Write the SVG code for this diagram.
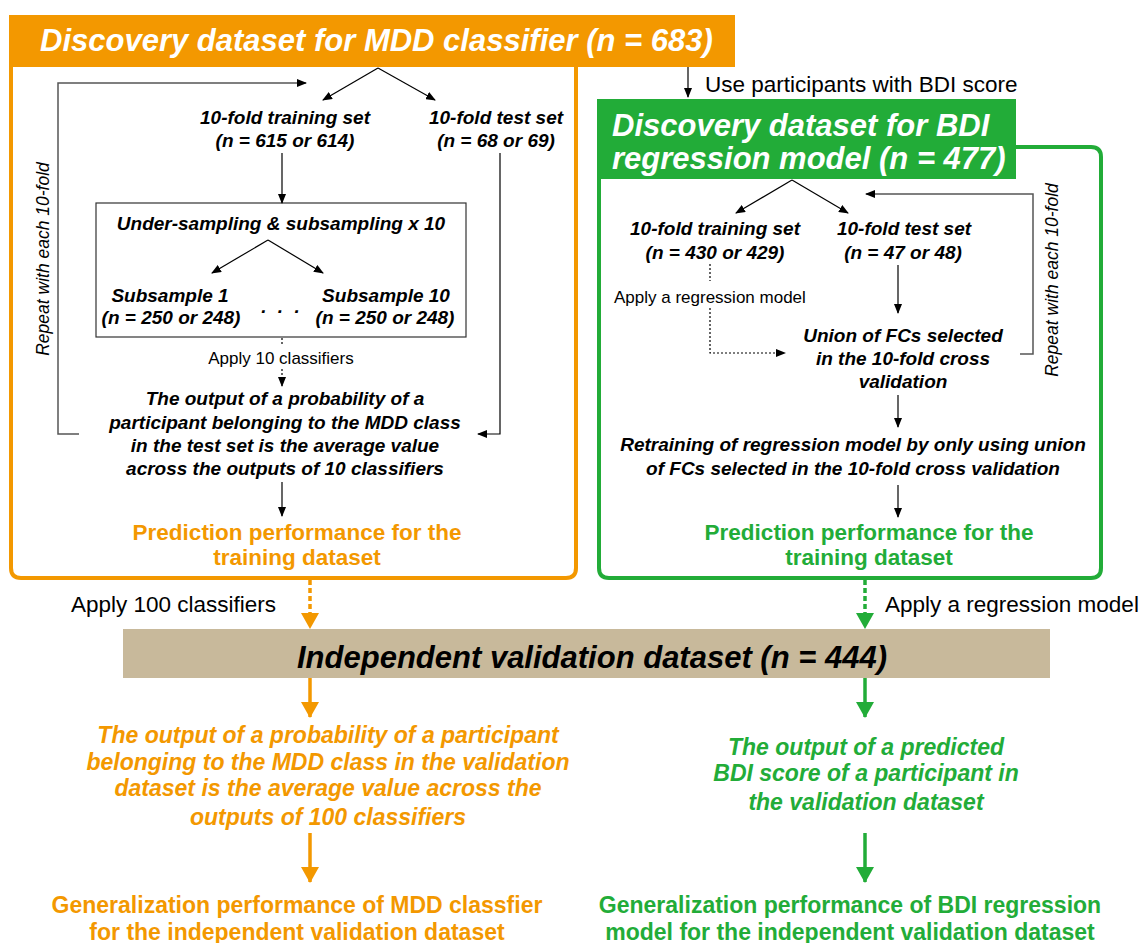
<svg xmlns="http://www.w3.org/2000/svg" width="1147" height="943" viewBox="0 0 1147 943">
<style>
  text { font-family: "Liberation Sans", Arial, sans-serif; }
  .bi { font-weight: bold; font-style: italic; font-size: 19px; fill: #000; text-anchor: middle; }
  .title { font-weight: bold; font-style: italic; font-size: 31px; fill: #fff; }
  .lbl { font-size: 17px; fill: #000; }
  .big { font-size: 22.5px; fill: #000; }
  .rot { font-size: 17.5px; font-style: italic; fill: #000; text-anchor: middle; }
  .perfO { font-weight: bold; font-size: 22.5px; fill: #F39800; text-anchor: middle; }
  .perfG { font-weight: bold; font-size: 22.5px; fill: #22AC38; text-anchor: middle; }
  .genO { font-weight: bold; font-size: 23px; fill: #F39800; text-anchor: middle; }
  .genG { font-weight: bold; font-size: 23px; fill: #22AC38; text-anchor: middle; }
  .outO { font-weight: bold; font-style: italic; font-size: 23px; fill: #F39800; text-anchor: middle; }
  .outG { font-weight: bold; font-style: italic; font-size: 23px; fill: #22AC38; text-anchor: middle; }
  .ln { fill: none; stroke: #000; stroke-width: 1.2; }
  .loop { fill: none; stroke: #555; stroke-width: 1.5; }
  .dot { fill: none; stroke: #000; stroke-width: 1.2; stroke-dasharray: 2 2; }
</style>
<defs>
  <marker id="ah" markerWidth="10" markerHeight="8" refX="9" refY="4" orient="auto" markerUnits="userSpaceOnUse">
    <path d="M0,0 L10,4 L0,8 Z" fill="#000"/>
  </marker>
  <marker id="ahO" markerWidth="16" markerHeight="18" refX="15" refY="9" orient="auto" markerUnits="userSpaceOnUse">
    <path d="M0,0 L16,9 L0,18 Z" fill="#F39800"/>
  </marker>
  <marker id="ahG" markerWidth="16" markerHeight="18" refX="15" refY="9" orient="auto" markerUnits="userSpaceOnUse">
    <path d="M0,0 L16,9 L0,18 Z" fill="#22AC38"/>
  </marker>
</defs>

<!-- Orange discovery box -->
<g id="mdd-discovery">
  <path d="M11,60 V568 Q11,578 21,578 H566 Q576,578 576,568 V60" fill="#fff" stroke="#F39800" stroke-width="4"/>
  <rect x="9" y="15" width="726" height="52" fill="#F39800"/>
  <text class="title" x="40" y="51">Discovery dataset for MDD classifier (n = 683)</text>
</g>

<!-- Green discovery box -->
<g id="bdi-discovery">
  <path d="M599,150 V568 Q599,578 609,578 H1091 Q1101,578 1101,568 V157 Q1101,147 1091,147 H1010" fill="#fff" stroke="#22AC38" stroke-width="4"/>
  <rect x="597" y="99" width="419" height="80" fill="#22AC38"/>
  <text class="title" x="612" y="136">Discovery dataset for BDI</text>
  <text class="title" x="612" y="169">regression model (n = 477)</text>
</g>

<g id="use-bdi-label"><text class="big" x="705" y="92">Use participants with BDI score</text></g>

<!-- Left internal nodes -->
<g id="l-train"><text class="bi" x="285" y="124">10-fold training set</text><text class="bi" x="285" y="147">(n = 615 or 614)</text></g>
<g id="l-test"><text class="bi" x="496" y="124">10-fold test set</text><text class="bi" x="496" y="147">(n = 68 or 69)</text></g>
<g id="l-subsample">
  <rect x="96" y="203" width="370" height="134" fill="#fff" stroke="#333" stroke-width="1.2"/>
  <text class="bi" x="281" y="230">Under-sampling &amp; subsampling x 10</text>
  <text class="bi" x="170" y="302">Subsample 1</text>
  <text class="bi" x="171" y="324">(n = 250 or 248)</text>
  <text class="bi" x="386" y="302">Subsample 10</text>
  <text class="bi" x="385" y="324">(n = 250 or 248)</text>
  <text class="bi" x="282" y="313" letter-spacing="3">. . .</text>
</g>
<g id="l-apply10"><text class="lbl" x="281" y="364" text-anchor="middle">Apply 10 classifiers</text></g>
<g id="l-output">
  <text class="bi" x="285" y="405">The output of a probability of a</text>
  <text class="bi" x="285" y="429">participant belonging to the MDD class</text>
  <text class="bi" x="285" y="452">in the test set is the average value</text>
  <text class="bi" x="285" y="475">across the outputs of 10 classifiers</text>
</g>
<g id="l-perf"><text class="perfO" x="297" y="540">Prediction performance for the</text><text class="perfO" x="297" y="565">training dataset</text></g>
<g id="l-repeat"><text class="rot" transform="translate(49,259) rotate(-90)">Repeat with each 10-fold</text></g>

<!-- Right internal nodes -->
<g id="r-train"><text class="bi" x="715" y="235">10-fold training set</text><text class="bi" x="715" y="259">(n = 430 or 429)</text></g>
<g id="r-test"><text class="bi" x="904" y="235">10-fold test set</text><text class="bi" x="903" y="259">(n = 47 or 48)</text></g>
<g id="r-apply"><text class="lbl" x="614" y="303">Apply a regression model</text></g>
<g id="r-union">
  <text class="bi" x="903" y="342">Union of FCs selected</text>
  <text class="bi" x="903" y="365">in the 10-fold cross</text>
  <text class="bi" x="903" y="388">validation</text>
</g>
<g id="r-retrain">
  <text class="bi" x="853" y="451">Retraining of regression model by only using union</text>
  <text class="bi" x="853" y="475">of FCs selected in the 10-fold cross validation</text>
</g>
<g id="r-perf"><text class="perfG" x="869" y="540">Prediction performance for the</text><text class="perfG" x="869" y="565">training dataset</text></g>
<g id="r-repeat"><text class="rot" transform="translate(1058,280) rotate(-90)">Repeat with each 10-fold</text></g>

<!-- Validation -->
<g id="apply100"><text class="big" x="71" y="612">Apply 100 classifiers</text></g>
<g id="apply-reg"><text class="big" x="885" y="612">Apply a regression model</text></g>
<g id="validation">
  <rect x="123" y="629" width="927" height="49" fill="#C8B99B"/>
  <text x="592" y="668" text-anchor="middle" style="font-weight:bold;font-style:italic;font-size:31px;fill:#000">Independent validation dataset (n = 444)</text>
</g>
<g id="o-output">
  <text class="outO" x="328" y="743">The output of a probability of a participant</text>
  <text class="outO" x="328" y="770">belonging to the MDD class in the validation</text>
  <text class="outO" x="328" y="796">dataset is the average value across the</text>
  <text class="outO" x="328" y="825">outputs of 100 classifiers</text>
</g>
<g id="g-output">
  <text class="outG" x="866" y="755">The output of a predicted</text>
  <text class="outG" x="866" y="781">BDI score of a participant in</text>
  <text class="outG" x="866" y="810">the validation dataset</text>
</g>
<g id="o-gen"><text class="genO" x="297" y="913">Generalization performance of MDD classfier</text><text class="genO" x="297" y="940">for the independent validation dataset</text></g>
<g id="g-gen"><text class="genG" x="850" y="913">Generalization performance of BDI regression</text><text class="genG" x="850" y="940">model for the independent validation dataset</text></g>

<!-- Connectors -->
<g id="connectors">
  <line class="ln" x1="688" y1="67" x2="688" y2="97" marker-end="url(#ah)"/>
  <!-- left -->
  <line class="ln" x1="378" y1="68" x2="323" y2="100" marker-end="url(#ah)"/>
  <line class="ln" x1="378" y1="68" x2="435" y2="100" marker-end="url(#ah)"/>
  <line class="ln" x1="282" y1="153" x2="282" y2="203" marker-end="url(#ah)"/>
  <polyline class="ln" points="500,153 500,434 478,434" marker-end="url(#ah)"/>
  <line class="ln" x1="268" y1="240" x2="212" y2="273" marker-end="url(#ah)"/>
  <line class="ln" x1="268" y1="240" x2="323" y2="273" marker-end="url(#ah)"/>
  <line class="dot" x1="282" y1="338" x2="282" y2="346"/>
  <line class="dot" x1="282" y1="369" x2="282" y2="386" marker-end="url(#ah)"/>
  <line class="ln" x1="282" y1="482" x2="282" y2="516" marker-end="url(#ah)"/>
  <polyline class="loop" points="79,434 58,434 58,83 306,83" marker-end="url(#ah)"/>
  <!-- right -->
  <line class="ln" x1="792" y1="180" x2="736" y2="213" marker-end="url(#ah)"/>
  <line class="ln" x1="792" y1="180" x2="848" y2="213" marker-end="url(#ah)"/>
  <line class="dot" x1="710" y1="264" x2="710" y2="281"/>
  <polyline class="dot" points="710,308 710,353 785,353" marker-end="url(#ah)"/>
  <line class="ln" x1="898" y1="265" x2="898" y2="313" marker-end="url(#ah)"/>
  <line class="ln" x1="898" y1="395" x2="898" y2="427" marker-end="url(#ah)"/>
  <line class="ln" x1="898" y1="485" x2="898" y2="517" marker-end="url(#ah)"/>
  <polyline class="loop" points="1020,354 1033,354 1033,194 866,194" marker-end="url(#ah)"/>
  <!-- bottom -->
  <line x1="310" y1="580" x2="310" y2="628" stroke="#F39800" stroke-width="3.5" stroke-dasharray="5 3" marker-end="url(#ahO)"/>
  <line x1="865" y1="580" x2="865" y2="628" stroke="#22AC38" stroke-width="3.5" stroke-dasharray="5 3" marker-end="url(#ahG)"/>
  <line x1="310" y1="678" x2="310" y2="717" stroke="#F39800" stroke-width="3.5" marker-end="url(#ahO)"/>
  <line x1="865" y1="678" x2="865" y2="717" stroke="#22AC38" stroke-width="3.5" marker-end="url(#ahG)"/>
  <line x1="310" y1="833" x2="310" y2="882" stroke="#F39800" stroke-width="3.5" marker-end="url(#ahO)"/>
  <line x1="865" y1="833" x2="865" y2="882" stroke="#22AC38" stroke-width="3.5" marker-end="url(#ahG)"/>
</g>
</svg>
